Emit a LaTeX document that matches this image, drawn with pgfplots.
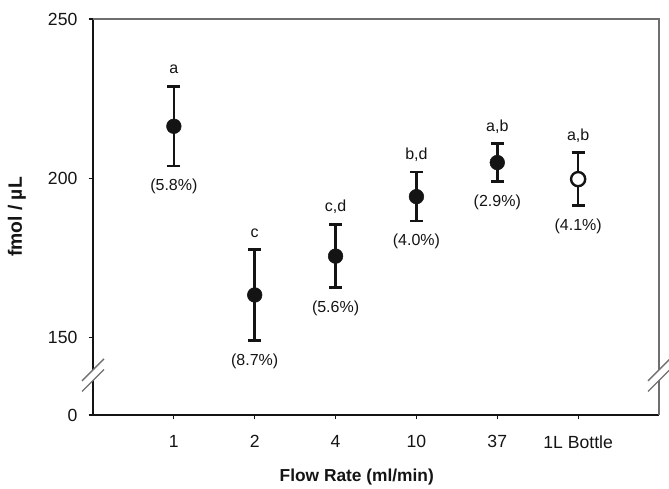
\documentclass[border=0pt]{standalone}
\usepackage{fontspec}
\setmainfont{Liberation Sans}
\usepackage{pgfplots}
\usepackage{pgfplotstable}
\pgfplotsset{compat=1.18}
\definecolor{ink}{HTML}{141414}
\definecolor{frame}{HTML}{6E6E6E}
\definecolor{brk}{HTML}{707070}

% mean, SD, CV% and significance group per flow rate
\pgfplotstableread{
x y e cv grp
0 216.3 12.5 5.8 a
1 163.3 14.2 8.7 c
2 175.5 9.9 5.6 c,d
3 194.2 7.7 4.0 b,d
4 204.9 5.9 2.9 a,b
}\filled
\pgfplotstableread{
x y e cv grp
5 199.7 8.3 4.1 a,b
}\bottle

\begin{document}
\begin{tikzpicture}
\begin{axis}[
  scale only axis, width=424.5pt, height=297pt,
  xmin=-1, xmax=6, ymin=125.6, ymax=250,
  axis x line*=bottom, axis y line*=left,
  axis line style={ink, line width=1.1pt},
  xtick={0,1,2,3,4,5}, xticklabels={1,2,4,10,37,1L Bottle},
  ytick={125.6,150,200,250}, yticklabels={0,150,200,250},
  tick align=outside, major tick length=3.2pt,
  tick style={ink, line width=0.9pt},
  ticklabel style={font=\fontsize{13.2}{15}\selectfont, text=ink},
  xticklabel style={yshift=-8.5pt},
  yticklabel style={xshift=-5pt},
  /pgf/number format/assume math mode=true,
  xlabel={Flow Rate (ml/min)}, ylabel={fmol / µL},
  label style={font=\fontsize{13}{15}\selectfont\bfseries, text=ink},
  xlabel style={at={(axis description cs:0.466,0)}, anchor=center, yshift=-46.5pt},
  ylabel style={at={(axis description cs:0,0.5)}, anchor=center, yshift=57pt,
    font=\fontsize{14.5}{16}\selectfont\bfseries},
  clip=false,
]
% error bars first, so the markers sit on top
\pgfplotsset{sdbars/.style={forget plot, only marks, mark=none, ink,
  error bars/.cd, y dir=both, y explicit, error mark=-,
  error bar style={line width=2pt, ink},
  error mark options={rotate=90, line width=2pt, mark size=4.9pt, ink}}}
\addplot[sdbars] table[x=x, y=y, y error=e] {\filled};
\addplot[sdbars] table[x=x, y=y, y error=e] {\bottle};

\addplot[only marks, mark=*, mark size=5.5pt,
  mark options={fill=ink, draw=ink, line width=0.4pt}]
  table[x=x, y=y] {\filled};
\addplot[only marks, mark=*, mark size=5.3pt,
  mark options={fill=white, draw=ink, line width=1.8pt}]
  table[x=x, y=y] {\bottle};

% group letters above, CV below
\pgfplotsset{
  grplab/.style={only marks, mark=none, nodes near coords, point meta=explicit symbolic,
    nodes near coords style={anchor=base, yshift=9.5pt, font=\fontsize{12}{14}\selectfont, text=ink}},
  cvlab/.style={only marks, mark=none, point meta=explicit,
    nodes near coords={(\pgfmathprintnumber[fixed,fixed zerofill,precision=1]{\pgfplotspointmeta}\%)},
    nodes near coords style={anchor=center, yshift=-15.5pt, font=\fontsize{12}{14}\selectfont, text=ink}}}
\addplot[grplab] table[x=x, y expr=\thisrow{y}+\thisrow{e}, meta=grp] {\filled};
\addplot[grplab] table[x=x, y expr=\thisrow{y}+\thisrow{e}, meta=grp] {\bottle};
\addplot[cvlab] table[x=x, y expr=\thisrow{y}-\thisrow{e}, meta=cv] {\filled};
\addplot[cvlab] table[x=x, y expr=\thisrow{y}-\thisrow{e}, meta=cv] {\bottle};

\coordinate (bl) at (rel axis cs:0,0);
\coordinate (tr) at (rel axis cs:1,1);
\coordinate (bkL) at (axis cs:-1,138.1);
\coordinate (bkR) at (axis cs:6,138.1);
\end{axis}
\draw[frame, line width=1.1pt] (bl -| tr) -- (tr) -- (tr -| bl);
% axis break marks
\foreach \p in {bkL,bkR} {
  \fill[white] ([shift={(-8.25pt,-4.3pt)}]\p) -- ([shift={(8.25pt,12.2pt)}]\p)
    -- ([shift={(8.25pt,4.3pt)}]\p) -- ([shift={(-8.25pt,-12.2pt)}]\p) -- cycle;
  \draw[brk, line width=1pt] ([shift={(-8.25pt,-4.3pt)}]\p) -- ([shift={(8.25pt,12.2pt)}]\p);
  \draw[brk, line width=1pt] ([shift={(-8.25pt,-12.2pt)}]\p) -- ([shift={(8.25pt,4.3pt)}]\p);
}
\pgfresetboundingbox
\path ([shift={(-69.75pt,-54.75pt)}]bl) rectangle ([shift={(7.5pt,14.25pt)}]tr);
\end{tikzpicture}
\end{document}
